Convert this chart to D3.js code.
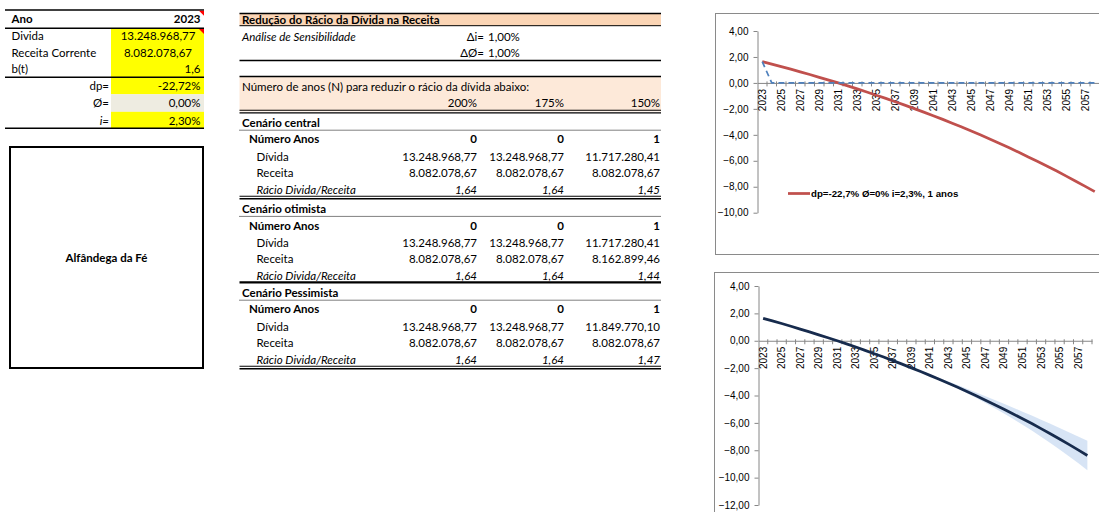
<!DOCTYPE html>
<html>
<head>
<meta charset="utf-8">
<script src="https://cdn.jsdelivr.net/npm/d3@7"></script>
<style>
  body { margin: 0; background: #fff; }
  svg { display: block; }
  .cell { font-family: Lato, "Open Sans", sans-serif; font-size: 11.5px; fill: #000; }
  .axis text { font-family: "Liberation Sans", Arial, sans-serif; font-size: 10px; fill: #000; }
</style>
</head>
<body>
<script>
// ---- data ----
var years = [2023,2024,2025,2026,2027,2028,2029,2030,2031,2032,2033,2034,2035,2036,2037,2038,2039,2040,
             2041,2042,2043,2044,2045,2046,2047,2048,2049,2050,2051,2052,2053,2054,2055,2056,2057,2058]
var central = [1.64,1.45,1.26,1.06,0.85,0.65,0.43,0.22,0.00,-0.23,-0.46,-0.70,-0.95,-1.19,-1.45,-1.71,-1.98,-2.25,
               -2.53,-2.81,-3.11,-3.40,-3.71,-4.02,-4.34,-4.67,-5.00,-5.35,-5.70,-6.05,-6.42,-6.79,-7.18,-7.57,-7.97,-8.38]
var optimistic = [1.64,1.44,1.23,1.02,0.81,0.59,0.38,0.16,-0.07,-0.29,-0.52,-0.75,-0.99,-1.23,-1.47,-1.71,-1.96,-2.21,
                  -2.46,-2.72,-2.98,-3.24,-3.51,-3.78,-4.05,-4.33,-4.61,-4.89,-5.18,-5.47,-5.77,-6.07,-6.37,-6.68,-6.99,-7.30]
var pessimistic = [1.64,1.47,1.29,1.10,0.91,0.71,0.51,0.30,0.08,-0.14,-0.37,-0.61,-0.86,-1.12,-1.38,-1.65,-1.93,-2.22,
                   -2.53,-2.84,-3.16,-3.49,-3.83,-4.18,-4.55,-4.93,-5.32,-5.72,-6.13,-6.56,-7.01,-7.47,-7.94,-8.43,-8.93,-9.46]
var target = [1.64,0,0,0,0,0,0,0,0,0,0,0,0,0,0,0,0,0,0,0,0,0,0,0,0,0,0,0,0,0,0,0,0,0,0,0]
var yTicks1 = [4,2,0,-2,-4,-6,-8,-10]
var yTicks2 = [4,2,0,-2,-4,-6,-8,-10,-12]
var legendLabel = "dp=-22,7% Ø=0% i=2,3%, 1 anos"

// left table
var anoLabel = "Ano", anoValue = "2023"
var baseLabels = ["Divida", "Receita Corrente", "b(t)"]
var baseValues = ["13.248.968,77", "8.082.078,67", "1,6"]
var paramLabels = ["dp=", "Ø=", "i="]
var paramValues = ["-22,72%", "0,00%", "2,30%"]
var municipio = "Alfândega da Fé"

// middle table
var tableTitle = "Redução do Rácio da Dívida na Receita"
var sensLabel = "Análise de Sensibilidade"
var sensLabels = ["Δi=", "ΔØ="]
var sensValues = ["1,00%", "1,00%"]
var nLabel = "Número de anos (N) para reduzir o rácio da dívida abaixo:"
var thresholds = ["200%", "175%", "150%"]
var scenarioNames = ["Cenário central", "Cenário otimista", "Cenário Pessimista"]
var rowLabels = ["Número Anos", "Dívida", "Receita", "Rácio Divida/Receita"]
var numeroAnos = [["0","0","1"], ["0","0","1"], ["0","0","1"]]
var dividas = [["13.248.968,77","13.248.968,77","11.717.280,41"],
               ["13.248.968,77","13.248.968,77","11.717.280,41"],
               ["13.248.968,77","13.248.968,77","11.849.770,10"]]
var receitas = [["8.082.078,67","8.082.078,67","8.082.078,67"],
                ["8.082.078,67","8.082.078,67","8.162.899,46"],
                ["8.082.078,67","8.082.078,67","8.082.078,67"]]
var racios = [["1,64","1,64","1,45"], ["1,64","1,64","1,44"], ["1,64","1,64","1,47"]]

// ---- drawing ----
var svg = d3.select("body").append("svg")
    .attr("width", 1099)
    .attr("height", 512)

function txt(x, y, s, opt) {
  opt = opt || {}
  return svg.append("text")
    .attr("class", "cell")
    .attr("x", x)
    .attr("y", y)
    .attr("dy", "0.35em")
    .attr("text-anchor", opt.anchor || "start")
    .style("font-weight", opt.bold ? "bold" : null)
    .style("font-style", opt.italic ? "italic" : null)
    .text(s)
}

function hline(x1, x2, y, w, dash) {
  svg.append("line")
    .attr("x1", x1).attr("x2", x2)
    .attr("y1", y).attr("y2", y)
    .style("stroke", "#000")
    .style("stroke-width", w)
    .attr("stroke-dasharray", dash || null)
}

function dline(x1, x2, y) {
  hline(x1, x2, y - 1.3, 1.1)
  hline(x1, x2, y + 1.3, 1.4)
}

// left table
var L = { x0: 5, x1: 204, cell: 111, labelX: 11.5, right: 200.5, center: 158 }
var baseY = [36, 52.5, 69]
var paramY = [86.3, 103.3, 120.5]

svg.append("rect").attr("x", L.cell).attr("y", 28.3).attr("width", L.x1 - L.cell).attr("height", 66).style("fill", "#ffff00")
svg.append("rect").attr("x", L.cell).attr("y", 94.3).attr("width", L.x1 - L.cell).attr("height", 17.5).style("fill", "#eeece1")
svg.append("rect").attr("x", L.cell).attr("y", 111.8).attr("width", L.x1 - L.cell).attr("height", 16.5).style("fill", "#ffff00")

txt(L.labelX, 18.8, anoLabel, { bold: true })
txt(L.right, 18.8, anoValue, { bold: true, anchor: "end" })
baseLabels.forEach(function (d, i) {
  txt(L.labelX, baseY[i], d)
  txt(i < 2 ? L.center : L.right, baseY[i], baseValues[i], { anchor: i < 2 ? "middle" : "end" })
})
paramLabels.forEach(function (d, i) {
  txt(109, paramY[i], d, { anchor: "end", italic: i == 2 })
  txt(L.right, paramY[i], paramValues[i], { anchor: "end" })
})
hline(L.x0, L.x1, 10, 1.5)
hline(L.x0, L.x1, 28.3, 1.5)
hline(L.x0, L.x1, 77.3, 1.5)
hline(L.x0, L.x1, 128.3, 1.5)

// comment markers
;[10.8, 29].forEach(function (y) {
  svg.append("path")
    .attr("d", "M" + (L.x1 - 5) + "," + y + "L" + L.x1 + "," + y + "L" + L.x1 + "," + (y + 5) + "Z")
    .style("fill", "#ff0000")
})

svg.append("rect")
  .attr("x", 10).attr("y", 147).attr("width", 193).attr("height", 221)
  .style("fill", "none").style("stroke", "#000").style("stroke-width", 2)
txt(106.5, 258, municipio, { bold: true, anchor: "middle" })

// middle table
var M = { x0: 239.5, x1: 661, textX: 242, subX: 249, rowX: 256.5 }
var colRight = [477, 564, 660]

svg.append("rect").attr("x", M.x0).attr("y", 13.5).attr("width", M.x1 - M.x0).attr("height", 12.2).style("fill", "#fbd5b5")
svg.append("rect").attr("x", M.x0).attr("y", 76.5).attr("width", M.x1 - M.x0).attr("height", 35).style("fill", "#fde9d9")

txt(M.textX, 19.6, tableTitle, { bold: true })
txt(M.textX, 36.5, sensLabel, { italic: true })
sensLabels.forEach(function (d, i) {
  var y = 36.5 + i * 16.5
  txt(484, y, d, { anchor: "end" })
  txt(488, y, sensValues[i])
})
txt(M.textX, 86.5, nLabel)
thresholds.forEach(function (d, i) { txt(colRight[i], 103.3, d, { anchor: "end" }) })

hline(M.x0, M.x1, 13.5, 1.5)
hline(M.x0, M.x1, 25.7, 1)
hline(M.x0, M.x1, 60.5, 1.5)
hline(M.x0, M.x1, 76.5, 1.5)
dline(M.x0, M.x1, 111.6)

var blockTop = [122.6, 208.8, 292.6]
var blockEnd = [197.5, 282.3, 367.5]
var offsets = [16.8, 34, 50.5, 67]

scenarioNames.forEach(function (name, s) {
  var y0 = blockTop[s]
  txt(M.textX, y0, name, { bold: true })
  hline(M.x0, M.x1, y0 + 7.6, 1, "1,1")
  var rows = [numeroAnos[s], dividas[s], receitas[s], racios[s]]
  rows.forEach(function (vals, r) {
    var y = y0 + offsets[r]
    txt(r == 0 ? M.subX : M.rowX, y, rowLabels[r], { bold: r == 0, italic: r == 3 })
    vals.forEach(function (v, c) {
      txt(colRight[c], y, v, { anchor: "end", bold: r == 0, italic: r == 3 })
    })
  })
  if (s == 1) hline(M.x0, M.x1, blockEnd[s], 2.2)
  else dline(M.x0, M.x1, blockEnd[s])
})

// ---- charts ----
var commaFmt = function (d) { return d3.format(".2f")(d).replace(".", ",") }

function drawChart(box, xRange, yDomain, yRange, yTicks) {
  svg.append("rect")
    .attr("x", box.x).attr("y", box.y).attr("width", box.w).attr("height", box.h)
    .style("fill", "#fff").style("stroke", "#8a8a8a").style("stroke-width", 1)

  var x = d3.scaleBand().domain(years).range(xRange)
  var y = d3.scaleLinear().domain(yDomain).range(yRange)

  var yAxis = svg.append("g")
    .attr("class", "axis")
    .attr("transform", "translate(" + xRange[0] + ",0)")
    .call(d3.axisLeft(y).tickValues(yTicks).tickFormat(commaFmt).tickSize(4).tickSizeOuter(0))
  yAxis.selectAll("path, line").style("stroke", "#868686")
  yAxis.selectAll("text").attr("x", -9)

  var y0 = y(0)
  var xAxis = svg.append("g")
    .attr("class", "axis")
    .attr("transform", "translate(0," + y0 + ")")
    .call(d3.axisBottom(x).tickValues(years.filter(function (d, i) { return i % 2 == 0 })).tickSize(0).tickSizeOuter(0))
  xAxis.select("path").style("stroke", "#868686")
  xAxis.selectAll("text")
    .attr("transform", "rotate(-90)")
    .attr("text-anchor", "end")
    .attr("x", -6)
    .attr("y", 0)
    .attr("dy", "0.35em")

  // category boundary ticks
  svg.append("g").selectAll("line")
    .data(years)
    .enter().append("line")
    .attr("x1", function (d) { return x(d) + x.step() })
    .attr("x2", function (d) { return x(d) + x.step() })
    .attr("y1", y0 - 1.5)
    .attr("y2", y0 + 3.5)
    .style("stroke", "#868686")

  return { x: x, y: y }
}

// chart 1
var c1 = drawChart({ x: 715.5, y: 13.5, w: 400, h: 241 }, [757.5, 1099.5], [-10, 4], [212.7, 31], yTicks1)
var line1 = d3.line()
  .x(function (d, i) { return c1.x(years[i]) + c1.x.bandwidth() / 2 })
  .y(function (d) { return c1.y(d) })

svg.append("path")
  .datum(central)
  .attr("d", line1)
  .style("fill", "none")
  .style("stroke", "#c0504d")
  .style("stroke-width", 2.75)

svg.append("path")
  .datum(target)
  .attr("d", line1)
  .style("fill", "none")
  .style("stroke", "#4f81bd")
  .style("stroke-width", 1.75)
  .attr("stroke-dasharray", "6,4")

svg.append("line")
  .attr("x1", 788).attr("x2", 810)
  .attr("y1", 193.5).attr("y2", 193.5)
  .style("stroke", "#c0504d")
  .style("stroke-width", 2.75)
svg.append("text")
  .attr("x", 811)
  .attr("y", 193.5)
  .attr("dy", "0.35em")
  .style("font-family", "'Liberation Sans', Arial, sans-serif")
  .style("font-size", "9.7px")
  .style("font-weight", "bold")
  .text(legendLabel)

// chart 2
var c2 = drawChart({ x: 714.5, y: 272.5, w: 400, h: 300 }, [758.5, 1092], [-12, 4], [505, 286], yTicks2)
var cx2 = function (d, i) { return c2.x(years[i]) + c2.x.bandwidth() / 2 }

var band = d3.area()
  .x(cx2)
  .y0(function (d, i) { return c2.y(pessimistic[i]) })
  .y1(function (d, i) { return c2.y(optimistic[i]) })

svg.append("path")
  .datum(central)
  .attr("d", band)
  .style("fill", "#c6d9f1")
  .style("opacity", 0.7)

svg.append("path")
  .datum(central)
  .attr("d", d3.line().x(cx2).y(function (d) { return c2.y(d) }))
  .style("fill", "none")
  .style("stroke", "#172b4d")
  .style("stroke-width", 2.75)
</script>
</body>
</html>
